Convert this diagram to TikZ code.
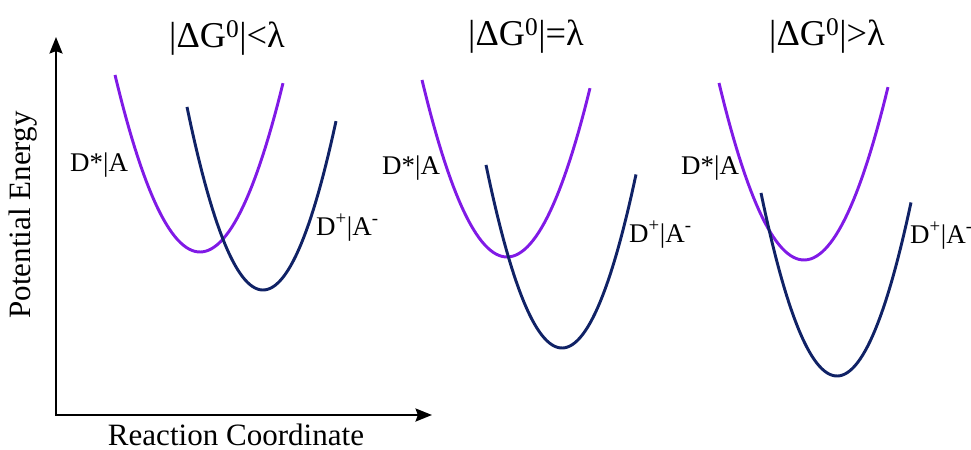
\documentclass[tikz,border=0pt]{standalone}
\usepackage{fontspec}
\setmainfont{Liberation Serif}
\usetikzlibrary{arrows.meta}

\definecolor{reactpurple}{RGB}{128,26,230}
\definecolor{prodnavy}{RGB}{16,34,102}

\tikzset{
  axis/.style={line width=2.4pt, {Stealth[length=14pt,width=11pt,inset=2pt]}-{Stealth[length=14pt,width=11pt,inset=2pt]}},
  reactant/.style={reactpurple, line width=2.5pt},
  product/.style={prodnavy, line width=2.5pt},
  title/.style={inner sep=0pt, font=\fontsize{31}{34}\selectfont},
  state/.style={inner sep=0pt, anchor=base west, font=\fontsize{23}{26}\selectfont},
  axlabel/.style={inner sep=0pt, font=\fontsize{26.5}{29}\selectfont},
}

\begin{document}
\begin{tikzpicture}[x=0.03cm, y=-0.03cm]
  \useasboundingbox (0,0) rectangle (971,450);

  % Axes
  \coordinate (O) at (56,415);
  \coordinate (ytop) at (56,37);
  \coordinate (xend) at (432,415);
  \draw[axis] (ytop) -- (O) -- (xend);

  \node[axlabel, rotate=90] (energy) at (23,215) {Potential Energy};
  \node[axlabel, anchor=base, text depth=0pt] (coord) at (236,445) {Reaction Coordinate};

  % Panel 1
  \node[title] (title1) at (227,38) {|ΔG\textsuperscript{0}|<λ};
  \draw[reactant] plot[domain=-85:83, samples=60] ({200+\x},{252-0.0245*\x*\x});
  \draw[product]  plot[domain=-76:73, samples=60] ({263+\x},{290-0.0317*\x*\x});
  \node[state] (reac1) at (70,171) {D*|A};
  \node[state] (prod1) at (316,235) {D\textsuperscript{+}|A\textsuperscript{-}};

  % Panel 2
  \node[title] (title2) at (526,36) {|ΔG\textsuperscript{0}|=λ};
  \draw[reactant] plot[domain=-85:83, samples=60] ({507+\x},{257-0.0245*\x*\x});
  \draw[product]  plot[domain=-76:74, samples=60] ({562+\x},{348-0.0317*\x*\x});
  \node[state] (reac2) at (382,175) {D*|A};
  \node[state] (prod2) at (629,242) {D\textsuperscript{+}|A\textsuperscript{-}};

  % Panel 3
  \node[title] (title3) at (827,36) {|ΔG\textsuperscript{0}|>λ};
  \draw[reactant] plot[domain=-85:84, samples=60] ({804+\x},{260-0.0245*\x*\x});
  \draw[product]  plot[domain=-76:74, samples=60] ({837+\x},{376-0.0317*\x*\x});
  \node[state] (reac3) at (681,174) {D*|A};
  \node[state] (prod3) at (910,243) {D\textsuperscript{+}|A\textsuperscript{-}};
\end{tikzpicture}
\end{document}
